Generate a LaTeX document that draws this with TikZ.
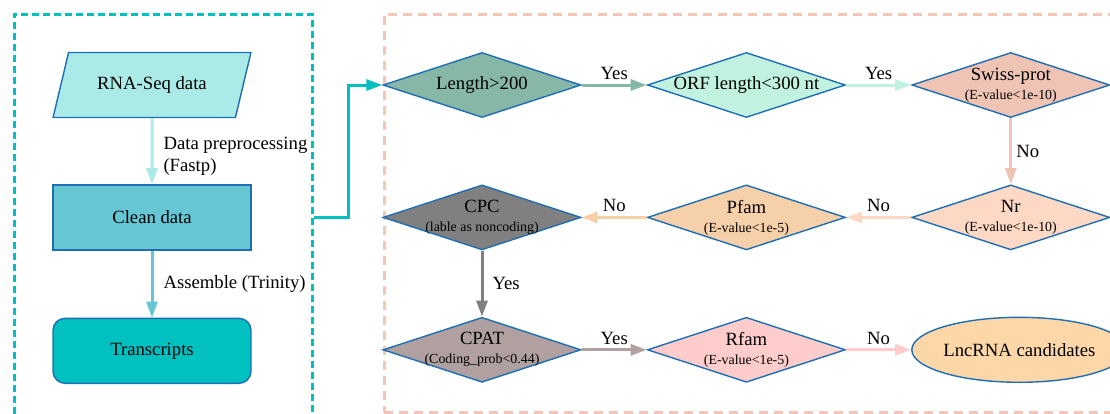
\documentclass[tikz,border=0pt]{standalone}
\usepackage{fontspec}
\setmainfont{Liberation Serif}
\usetikzlibrary{positioning,arrows.meta,calc,shapes.geometric}

\definecolor{cBorder}{RGB}{30,110,180}
\definecolor{cTeal}{RGB}{0,192,192}
\definecolor{cRaw}{RGB}{170,235,232}
\definecolor{cClean}{RGB}{102,198,211}
\definecolor{cFrame}{RGB}{244,198,182}
\definecolor{cLen}{RGB}{135,183,167}
\definecolor{cOrf}{RGB}{193,242,224}
\definecolor{cSwp}{RGB}{240,196,180}
\definecolor{cNr}{RGB}{253,216,196}
\definecolor{cPfm}{RGB}{246,208,168}
\definecolor{cCpc}{RGB}{128,128,128}
\definecolor{cCpat}{RGB}{176,160,160}
\definecolor{cRfm}{RGB}{255,204,204}
\definecolor{cLnc}{RGB}{253,215,168}

\newcommand{\minitxt}[1]{{\fontsize{13.9}{16}\selectfont #1}}

\begin{document}
\begin{tikzpicture}[
      x=1pt, y=-1pt,
      font=\rmfamily\fontsize{18.7}{22}\selectfont,
      node distance=65pt,
      base/.style={draw=cBorder, line width=1.4pt, inner sep=0pt, align=center,
                   minimum width=198pt, minimum height=65pt},
      datain/.style={base, trapezium, trapezium left angle=59,
                     trapezium right angle=121, trapezium stretches=true, fill=cRaw},
      stepbox/.style={base, rectangle, fill=cClean},
      endbox/.style={base, rectangle, rounded corners=12pt, fill=cTeal},
      test/.style={base, diamond, aspect=3, inner xsep=-40pt, inner ysep=-12pt},
      result/.style={base, ellipse, fill=cLnc},
      flow/.style={-{Triangle[length=16pt,width=11pt]}, line width=3pt},
      lbl/.style={inner sep=3pt, align=left, text=black},
      frame/.style={line width=2.8pt, anchor=north west, inner sep=0pt}
    ]
    \useasboundingbox (0,0) rectangle (1110,413);

    % dashed frames
    \node[frame, draw=cTeal, dash pattern=on 7pt off 4pt,
          minimum width=298pt, minimum height=430pt] (left) at (13,13) {};
    \node[frame, draw=cFrame, dash pattern=on 9pt off 6pt,
          minimum width=760pt, minimum height=398pt] (right) at (383,13) {};

    % left column
    \node[datain] (raw) at (152,85) {RNA-Seq data};
    \node[stepbox, below=66pt of raw] (cln) {Clean data};
    \node[endbox, below=67pt of cln] (trs) {Transcripts};

    \draw[flow, cRaw] (raw) -- node[lbl, right=7pt, yshift=-5pt] {Data preprocessing\\(Fastp)} (cln);
    \draw[flow, cClean] (cln) -- node[lbl, right=7pt] {Assemble (Trinity)} (trs);

    % filtering steps
    \node[test, fill=cLen] (len) at (482,85) {Length>200};
    \node[test, fill=cOrf, right=of len] (orf) {ORF length<300 nt};
    \node[test, fill=cSwp, right=of orf] (swp) {Swiss-prot\\[-3pt]\minitxt{(E-value<1e-10)}};
    \node[test, fill=cNr, below=66pt of swp] (nr) {Nr\\[-3pt]\minitxt{(E-value<1e-10)}};
    \node[test, fill=cPfm, left=of nr] (pfm) {Pfam\\[-3pt]\minitxt{(E-value<1e-5)}};
    \node[test, fill=cCpc, left=of pfm] (cpc) {CPC\\[-3pt]\minitxt{(lable as noncoding)}};
    \node[test, fill=cCpat, below=66pt of cpc] (cpat) {CPAT\\[-3pt]\minitxt{(Coding\_prob<0.44)}};
    \node[test, fill=cRfm, right=of cpat] (rfm) {Rfam\\[-3pt]\minitxt{(E-value<1e-5)}};
    \node[result, right=of rfm] (lnc) {LncRNA candidates};

    \foreach \a/\b/\c/\t/\p/\s in {len/orf/cLen/Yes/above/1pt, orf/swp/cOrf/Yes/above/1pt,
        swp/nr/cSwp/No/right/1pt, nr/pfm/cNr/No/above/1pt, pfm/cpc/cPfm/No/above/1pt,
        cpc/cpat/cCpc/Yes/right/6pt, cpat/rfm/cCpat/Yes/above/1pt, rfm/lnc/cRfm/No/above/1pt}
      {\draw[flow, \c] (\a) -- node[lbl, \p=\s] {\t} (\b);}

    % link between the two stages
    \coordinate (mid) at ($(left.east)!0.5!(right.west)$);
    \draw[flow, cTeal] (left.east |- cln) -| (mid |- len) -- (len);
  \end{tikzpicture}
\end{document}
